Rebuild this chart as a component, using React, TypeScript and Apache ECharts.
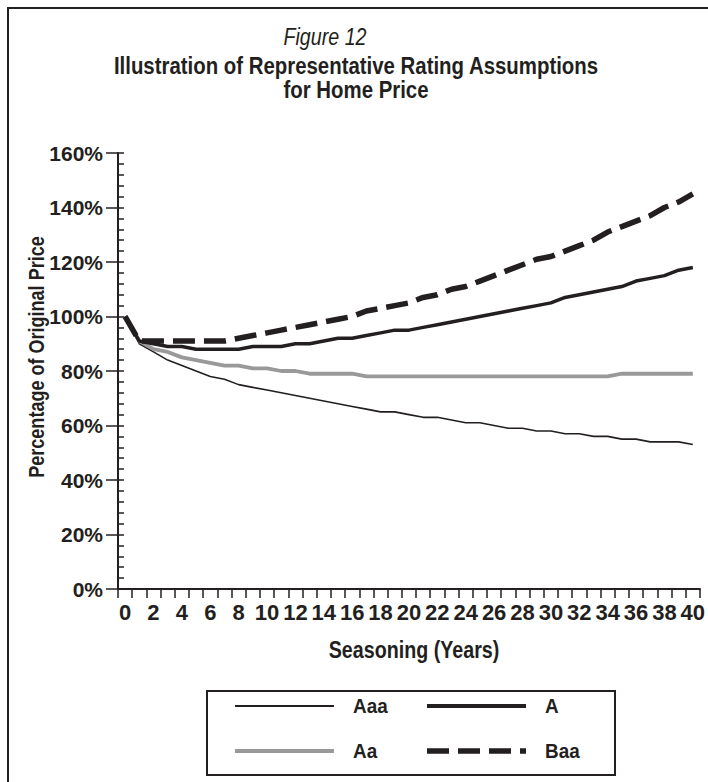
import React, { useEffect, useRef } from "react";
import * as echarts from "echarts";

const years = [
  "0", "1", "2", "3", "4", "5", "6", "7", "8", "9", "10",
  "11", "12", "13", "14", "15", "16", "17", "18", "19", "20",
  "21", "22", "23", "24", "25", "26", "27", "28", "29", "30",
  "31", "32", "33", "34", "35", "36", "37", "38", "39", "40",
];

const aaa = [
  100, 90, 87, 84, 82, 80, 78, 77, 75, 74, 73,
  72, 71, 70, 69, 68, 67, 66, 65, 65, 64,
  63, 63, 62, 61, 61, 60, 59, 59, 58, 58,
  57, 57, 56, 56, 55, 55, 54, 54, 54, 53,
];

const aa = [
  100, 91, 88, 87, 85, 84, 83, 82, 82, 81, 81,
  80, 80, 79, 79, 79, 79, 78, 78, 78, 78,
  78, 78, 78, 78, 78, 78, 78, 78, 78, 78,
  78, 78, 78, 78, 79, 79, 79, 79, 79, 79,
];

const a = [
  100, 91, 90, 89, 89, 88, 88, 88, 88, 89, 89,
  89, 90, 90, 91, 92, 92, 93, 94, 95, 95,
  96, 97, 98, 99, 100, 101, 102, 103, 104, 105,
  107, 108, 109, 110, 111, 113, 114, 115, 117, 118,
];

const baa = [
  100, 91, 91, 91, 91, 91, 91, 91, 92, 93, 94,
  95, 96, 97, 98, 99, 100, 102, 103, 104, 105,
  107, 108, 110, 111, 113, 115, 117, 119, 121, 122,
  124, 126, 128, 131, 133, 135, 137, 140, 142, 145,
];

const seriesNames = ["Aaa", "Aa", "A", "Baa"];
const legendOrder = ["Aaa", "A", "Aa", "Baa"];

const titleText = "Figure 12";
const titleLines = ["Illustration of Representative Rating Assumptions", "for Home Price"];
const xName = "Seasoning (Years)";
const yName = "Percentage of Original Price";

const BLACK = "#231f20";
const GRAY = "#999999";
const FONT = "'Liberation Sans', Arial, sans-serif";

const styles: Record<string, { color: string; width: number; type: any; legendWidth: number }> = {
  Aaa: { color: BLACK, width: 1.6, type: "solid", legendWidth: 2 },
  Aa: { color: GRAY, width: 3.8, type: "solid", legendWidth: 4 },
  A: { color: BLACK, width: 3.5, type: "solid", legendWidth: 4 },
  Baa: { color: BLACK, width: 5.5, type: [22, 9], legendWidth: 5.5 },
};

const dataByName: Record<string, number[]> = { Aaa: aaa, Aa: aa, A: a, Baa: baa };

export default function App() {
  const ref = useRef<HTMLDivElement>(null);

  useEffect(() => {
    const chart = echarts.init(ref.current!, null, { renderer: "svg" });

    const legendPos = [
      { lx: 235, tx: 353, y: 706 },
      { lx: 427, tx: 545, y: 706 },
      { lx: 235, tx: 353, y: 751 },
      { lx: 427, tx: 545, y: 751 },
    ];
    const legendEls: any[] = [];
    legendOrder.forEach((name, i) => {
      const p = legendPos[i];
      const s = styles[name];
      legendEls.push({
        type: "line",
        shape: { x1: p.lx, y1: p.y, x2: p.lx + 99, y2: p.y },
        style: {
          stroke: s.color,
          lineWidth: s.legendWidth,
          lineDash: Array.isArray(s.type) ? s.type : null,
        },
      });
      legendEls.push({
        type: "text",
        x: p.tx,
        y: p.y,
        scaleX: 0.9,
        style: {
          text: name,
          fontFamily: FONT,
          fontWeight: "bold",
          fontSize: 21,
          fill: BLACK,
          align: "left",
          verticalAlign: "middle",
        },
      });
    });

    const narrowText = (text: string, x: number, y: number, size: number, opts: any = {}) => ({
      type: "text",
      x,
      y,
      scaleX: opts.scaleX ?? 0.82,
      rotation: opts.rotation ?? 0,
      style: {
        text,
        fontFamily: FONT,
        fontWeight: opts.weight ?? "bold",
        fontStyle: opts.italic ? "italic" : "normal",
        fontSize: size,
        fill: BLACK,
        align: "center",
        verticalAlign: "middle",
      },
    });

    chart.setOption({
      animation: false,
      backgroundColor: "#ffffff",
      grid: { left: 118, right: 4, top: 153, bottom: 193, containLabel: false },
      xAxis: {
        type: "category",
        data: years,
        boundaryGap: true,
        axisLine: { show: true, lineStyle: { color: BLACK, width: 2 } },
        axisTick: { show: true, interval: 0, length: 9, lineStyle: { color: BLACK, width: 1.5 } },
        axisLabel: {
          interval: 1,
          margin: 12,
          color: BLACK,
          fontFamily: FONT,
          fontWeight: "bold",
          fontSize: 22,
        },
        splitLine: { show: false },
      },
      yAxis: [
        {
          type: "value",
          min: 0,
          max: 160,
          interval: 20,
          position: "left",
          axisLine: { show: true, lineStyle: { color: BLACK, width: 2 } },
          axisTick: { show: true, length: 12, lineStyle: { color: BLACK, width: 1.5 } },
          axisLabel: {
            formatter: "{value}%",
            margin: 15,
            color: BLACK,
            fontFamily: FONT,
            fontWeight: "bold",
            fontSize: 21,
          },
          splitLine: { show: false },
        },
        {
          type: "value",
          min: 0,
          max: 160,
          interval: 4,
          position: "left",
          axisLine: { show: false },
          axisTick: { show: true, inside: true, length: 6, lineStyle: { color: BLACK, width: 1.5 } },
          axisLabel: { show: false },
          splitLine: { show: false },
        },
      ],
      series: seriesNames.map((name) => ({
        name,
        type: "line",
        data: dataByName[name],
        symbol: "none",
        smooth: false,
        lineStyle: {
          color: styles[name].color,
          width: styles[name].width,
          type: styles[name].type,
          cap: "butt",
          join: "round",
        },
        itemStyle: { color: styles[name].color },
        z: 2,
      })),
      graphic: [
        {
          type: "rect",
          shape: { x: 8, y: 8, width: 720, height: 800 },
          style: { fill: "none", stroke: BLACK, lineWidth: 2 },
          silent: true,
        },
        narrowText(titleText, 325, 37, 24, { weight: "normal", italic: true }),
        narrowText(titleLines[0], 356, 66, 24, { scaleX: 0.85 }),
        narrowText(titleLines[1], 356, 90, 24, { scaleX: 0.85 }),
        narrowText(xName, 414, 650, 24),
        narrowText(yName, 36, 357, 22, { rotation: Math.PI / 2 }),
        {
          type: "rect",
          shape: { x: 207, y: 691, width: 408, height: 84 },
          style: { fill: "none", stroke: BLACK, lineWidth: 2 },
        },
        ...legendEls,
      ],
    });

    return () => chart.dispose();
  }, []);

  return (
    <div
      ref={ref}
      style={{ position: "fixed", left: 0, top: 0, width: 708, height: 782, background: "#fff" }}
    />
  );
}
